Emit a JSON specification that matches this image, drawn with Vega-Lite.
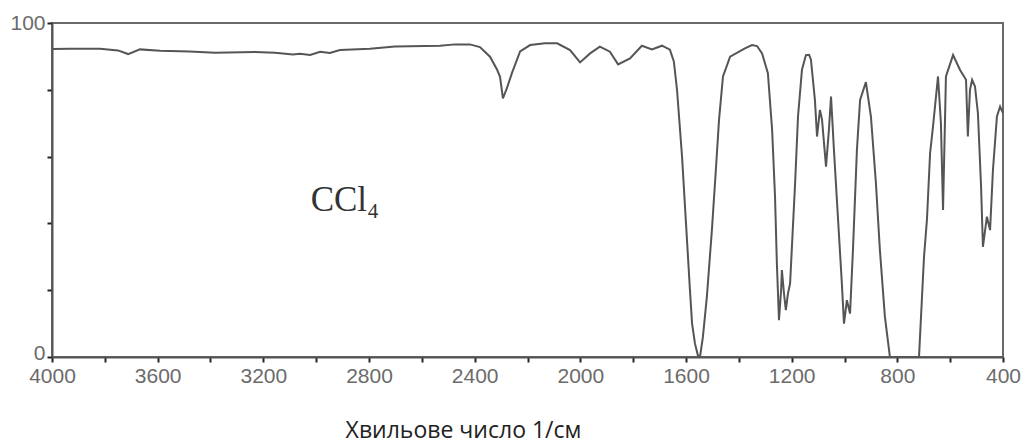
{
  "$schema": "https://vega.github.io/schema/vega-lite/v6.json",
  "autosize": {"type": "none"},
  "padding": {"left": 52, "top": 23, "right": 23, "bottom": 90},
  "width": 951,
  "height": 334,
  "background": "white",
  "config": {
    "view": {"stroke": "#6a6a6a", "strokeWidth": 2},
    "axis": {
      "grid": false,
      "domainColor": "#555555",
      "domainWidth": 2,
      "tickColor": "#222222",
      "tickWidth": 2,
      "tickSize": 5,
      "labelFont": "Liberation Sans",
      "labelFontSize": 21,
      "labelColor": "#6b6b6b"
    }
  },
  "datasets": {
    "spectrum": [
      {"wn": 4000, "t": 92.2}, {"wn": 3932, "t": 92.3}, {"wn": 3818, "t": 92.3},
      {"wn": 3750, "t": 91.8}, {"wn": 3712, "t": 90.7}, {"wn": 3667, "t": 92.1},
      {"wn": 3591, "t": 91.7}, {"wn": 3478, "t": 91.5}, {"wn": 3383, "t": 91.1},
      {"wn": 3232, "t": 91.3}, {"wn": 3156, "t": 91.1}, {"wn": 3088, "t": 90.6},
      {"wn": 3061, "t": 90.8}, {"wn": 3023, "t": 90.4}, {"wn": 2985, "t": 91.4},
      {"wn": 2948, "t": 91.0}, {"wn": 2910, "t": 91.9}, {"wn": 2796, "t": 92.3},
      {"wn": 2702, "t": 93.0}, {"wn": 2531, "t": 93.2}, {"wn": 2474, "t": 93.6},
      {"wn": 2418, "t": 93.6}, {"wn": 2380, "t": 92.8}, {"wn": 2342, "t": 89.9},
      {"wn": 2315, "t": 86.0}, {"wn": 2304, "t": 83.9}, {"wn": 2293, "t": 77.4},
      {"wn": 2278, "t": 80.5}, {"wn": 2259, "t": 85.0}, {"wn": 2228, "t": 91.5},
      {"wn": 2190, "t": 93.4}, {"wn": 2134, "t": 93.9}, {"wn": 2088, "t": 93.9},
      {"wn": 2039, "t": 91.9}, {"wn": 2001, "t": 88.2}, {"wn": 1963, "t": 90.9},
      {"wn": 1926, "t": 92.9}, {"wn": 1888, "t": 91.4}, {"wn": 1857, "t": 87.6},
      {"wn": 1812, "t": 89.4}, {"wn": 1767, "t": 93.2}, {"wn": 1729, "t": 92.1},
      {"wn": 1691, "t": 93.2}, {"wn": 1661, "t": 92.0}, {"wn": 1646, "t": 88.5},
      {"wn": 1634, "t": 80.0}, {"wn": 1615, "t": 60.0}, {"wn": 1600, "t": 40.0},
      {"wn": 1585, "t": 20.0}, {"wn": 1577, "t": 10.0}, {"wn": 1566, "t": 4.0},
      {"wn": 1555, "t": 0.5}, {"wn": 1547, "t": 0.0}, {"wn": 1536, "t": 6.0},
      {"wn": 1521, "t": 18.0}, {"wn": 1502, "t": 38.0}, {"wn": 1487, "t": 56.0},
      {"wn": 1475, "t": 71.0}, {"wn": 1460, "t": 84.0}, {"wn": 1433, "t": 89.9},
      {"wn": 1377, "t": 92.4}, {"wn": 1350, "t": 93.4}, {"wn": 1331, "t": 93.1},
      {"wn": 1312, "t": 90.9}, {"wn": 1290, "t": 85.0}, {"wn": 1274, "t": 68.0},
      {"wn": 1263, "t": 48.0}, {"wn": 1256, "t": 28.0}, {"wn": 1248, "t": 11.0},
      {"wn": 1240, "t": 20.0}, {"wn": 1237, "t": 26.0}, {"wn": 1229, "t": 19.0},
      {"wn": 1222, "t": 14.0}, {"wn": 1214, "t": 19.0}, {"wn": 1206, "t": 22.0},
      {"wn": 1187, "t": 52.0}, {"wn": 1176, "t": 72.0}, {"wn": 1161, "t": 86.0},
      {"wn": 1146, "t": 90.4}, {"wn": 1134, "t": 90.5}, {"wn": 1127, "t": 89.0},
      {"wn": 1112, "t": 77.0}, {"wn": 1104, "t": 66.0}, {"wn": 1093, "t": 74.0},
      {"wn": 1085, "t": 71.0}, {"wn": 1070, "t": 57.0}, {"wn": 1059, "t": 68.0},
      {"wn": 1051, "t": 78.0}, {"wn": 1040, "t": 62.0}, {"wn": 1025, "t": 42.0},
      {"wn": 1010, "t": 22.0}, {"wn": 1002, "t": 10.0}, {"wn": 991, "t": 17.0},
      {"wn": 979, "t": 13.0}, {"wn": 968, "t": 32.0}, {"wn": 953, "t": 62.0},
      {"wn": 941, "t": 77.0}, {"wn": 919, "t": 82.3}, {"wn": 900, "t": 72.0},
      {"wn": 881, "t": 52.0}, {"wn": 866, "t": 32.0}, {"wn": 847, "t": 12.0},
      {"wn": 828, "t": 0.0}, {"wn": 718, "t": 0.0}, {"wn": 699, "t": 30.0},
      {"wn": 688, "t": 41.0}, {"wn": 676, "t": 61.0}, {"wn": 665, "t": 69.0},
      {"wn": 646, "t": 84.0}, {"wn": 635, "t": 70.0}, {"wn": 627, "t": 44.0},
      {"wn": 616, "t": 84.0}, {"wn": 589, "t": 90.4}, {"wn": 563, "t": 86.0},
      {"wn": 551, "t": 84.4}, {"wn": 540, "t": 83.0}, {"wn": 533, "t": 66.0},
      {"wn": 525, "t": 80.0}, {"wn": 517, "t": 83.0}, {"wn": 506, "t": 81.0},
      {"wn": 495, "t": 73.0}, {"wn": 483, "t": 51.0}, {"wn": 476, "t": 33.0},
      {"wn": 461, "t": 42.0}, {"wn": 449, "t": 38.0}, {"wn": 438, "t": 56.0},
      {"wn": 423, "t": 72.0}, {"wn": 411, "t": 75.0}, {"wn": 400, "t": 73.0}
    ],
    "label": [{"wn": 2891, "t": 47, "name": "CCl₄"}]
  },
  "layer": [
    {
      "data": {"name": "spectrum"},
      "mark": {"type": "line", "color": "#555555", "strokeWidth": 2, "clip": true},
      "encoding": {
        "x": {
          "field": "wn",
          "type": "quantitative",
          "scale": {"domain": [400, 4000], "reverse": true, "nice": false, "zero": false},
          "axis": {
            "values": [400, 600, 800, 1000, 1200, 1400, 1600, 1800, 2000, 2200, 2400, 2600, 2800, 3000, 3200, 3400, 3600, 3800, 4000],
            "format": "d",
            "labelExpr": "datum.value % 400 === 0 ? datum.label : ''",
            "labelPadding": 3,
            "labelFlush": false,
            "title": "Хвильове число 1/см",
            "titleFont": "Open Sans",
            "titleFontSize": 23,
            "titleFontWeight": "normal",
            "titleColor": "#222222",
            "titleX": 411,
            "titleY": 73,
            "titleBaseline": "middle",
            "titleAnchor": null,
            "titleAlign": "center"
          }
        },
        "y": {
          "field": "t",
          "type": "quantitative",
          "scale": {"domain": [0, 100], "nice": false},
          "axis": {
            "values": [0, 10, 20, 30, 40, 50, 60, 70, 80, 90, 100],
            "labelExpr": "datum.value % 50 === 0 ? datum.label : ''",
            "labelPadding": 2,
            "labelOffset": {"condition": {"test": "datum.value === 0", "value": -4}, "value": 0},
            "labelFlush": false,
            "title": null
          }
        }
      }
    },
    {
      "data": {"name": "label"},
      "mark": {"type": "text", "font": "Liberation Serif", "fontSize": 35, "color": "#333333", "align": "center", "baseline": "middle"},
      "encoding": {
        "x": {"field": "wn", "type": "quantitative"},
        "y": {"field": "t", "type": "quantitative"},
        "text": {"field": "name"}
      }
    }
  ]
}
